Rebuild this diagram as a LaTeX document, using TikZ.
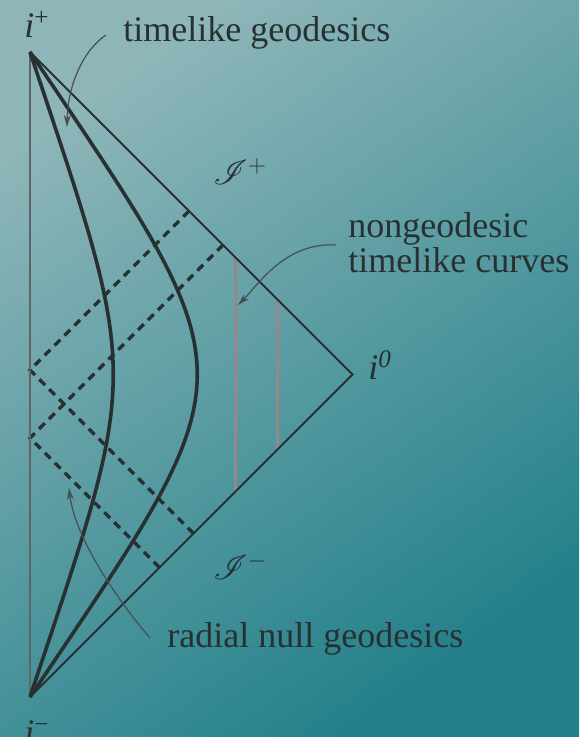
\documentclass[tikz,border=0pt]{standalone}
\usepackage{fontspec}
\setmainfont{Liberation Serif}
\usepackage{mathrsfs}
\usetikzlibrary{arrows.meta}
\definecolor{bgTL}{RGB}{142,182,185}
\definecolor{bgBR}{RGB}{34,128,138}
\definecolor{ink}{RGB}{40,48,50}
\definecolor{axisgray}{RGB}{95,100,102}
\definecolor{rosegray}{RGB}{150,135,140}

\begin{document}
\begin{tikzpicture}[x=0.5pt,y=0.5pt,font=\fontsize{18}{21}\selectfont,
 ln/.style={line width=1pt,draw=ink},
 ax/.style={line width=1.1pt,draw=axisgray},
 geo/.style={line width=1.8pt,draw=ink},
 nul/.style={line width=1.6pt,draw=ink,dash pattern=on 4pt off 3pt},
 ngc/.style={line width=1.5pt,draw=rosegray},
 ar/.style={-{Stealth[length=6pt,width=3.5pt]},line width=0.6pt,draw=ink!85},
 lbl/.style={text=ink,inner sep=0pt,anchor=base west}]
\shade[top color=bgTL,bottom color=bgBR,shading angle=35] (0,0) rectangle (579,737);
\useasboundingbox (0,0) rectangle (579,737);
\clip (0,0) rectangle (579,737);
\coordinate (ip) at (30,685);
\coordinate (im) at (30,40);
\coordinate (io) at (352.5,362.5);
\coordinate (a1) at (30,367);
\coordinate (a2) at (30,299);
\coordinate (p1) at (189,526);
\coordinate (p2) at (223,492);
\coordinate (m1) at (193.5,203.5);
\coordinate (m2) at (159.5,169.5);
\coordinate (n1t) at (235,480);
\coordinate (n1b) at (235,245);
\coordinate (n2t) at (277,438);
\coordinate (n2b) at (277,287);
\draw[ngc] (n1t) -- (n1b) (n2t) -- (n2b);
\draw[nul] (m1) -- (a1) -- (p1);
\draw[nul] (m2) -- (a2) -- (p2);
\draw[ax] (ip) -- (im);
\draw[ln] (ip) -- (io) -- (im);
\draw[geo] (ip) .. controls (141,352) and (141,373) .. (im);
\draw[geo] (ip) .. controls (253,354) and (253,371) .. (im);
\node[lbl] (lip) at (24,699) {\textit{i}\textsuperscript{+}};
\node[lbl] (ltg) at (123,695) {timelike geodesics};
\node[lbl] (lsp) at (213,552) {$\mathscr{I}^{+}$};
\node[lbl] (lng1) at (348,499) {nongeodesic};
\node[lbl] (lng2) at (348,464) {timelike curves};
\node[lbl] (lio) at (368,357) {\textit{i}\textsuperscript{\textit{0}}};
\node[lbl] (lsm) at (213,157) {$\mathscr{I}^{-}$};
\node[lbl] (lrn) at (167,89) {radial null geodesics};
\node[lbl] (lim) at (24,-8) {\textit{i}\textsuperscript{−}};
\coordinate (s1) at (106,702);
\coordinate (t1) at (67,610);
\coordinate (s2) at (336,492);
\coordinate (t2) at (238,432);
\coordinate (s3) at (150,99);
\coordinate (t3) at (69,249);
\draw[ar] (s1) .. controls (85,688) and (68,655) .. (t1);
\draw[ar] (s2) .. controls (285,495) and (258,452) .. (t2);
\draw[ar] (s3) .. controls (115,140) and (75,200) .. (t3);
\end{tikzpicture}
\end{document}
